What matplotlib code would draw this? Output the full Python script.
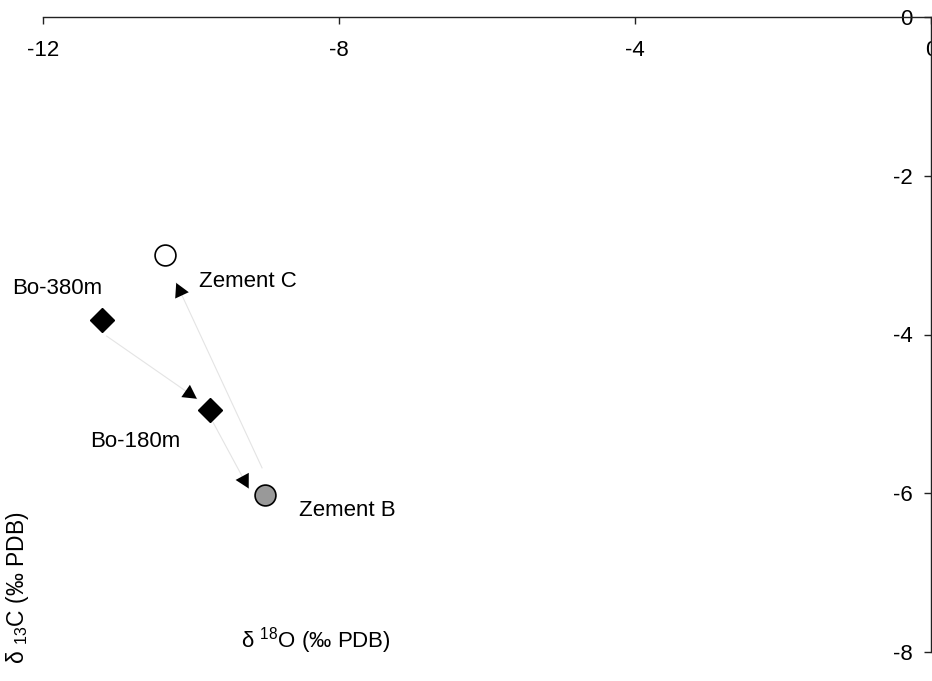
import matplotlib
matplotlib.use("Agg")
import matplotlib.pyplot as plt
from matplotlib.patches import FancyArrowPatch

# Isotope values (delta 18O, delta 13C, per mil PDB)
names = ["Zement C", "Bo-380m", "Bo-180m", "Zement B"]
d18o = [-10.35, -11.2, -9.75, -9.0]
d13c = [-3.0, -3.82, -4.95, -6.02]

# Evolution arrows: start and tip, in data units
arrow_x0 = [-11.14, -9.70, -9.04]
arrow_y0 = [-4.02, -5.11, -5.68]
arrow_x1 = [-9.92, -9.22, -10.20]
arrow_y1 = [-4.81, -5.94, -3.35]

x_ticks = [-12, -8, -4, 0]
y_ticks = [0, -2, -4, -6, -8]

plt.rcParams.update({
    "font.family": ["Liberation Sans", "DejaVu Sans"],
    "font.size": 16,
    "axes.unicode_minus": False,
    "mathtext.fontset": "custom",
    "mathtext.rm": "Liberation Sans",
    "mathtext.it": "Liberation Sans:italic",
})

fig = plt.figure(figsize=(9.32, 6.81), dpi=100)
W, H = 932, 681
ax = fig.add_axes([43 / W, 29 / H, 888 / W, 635 / H])

ax.set_xlim(-12, 0)
ax.set_ylim(-8, 0)
ax.set_xticks(x_ticks)
ax.set_yticks(y_ticks)

for side in ("left", "bottom"):
    ax.spines[side].set_visible(False)
for side in ("top", "right"):
    ax.spines[side].set_linewidth(1.0)
    ax.spines[side].set_color("#222222")

ax.xaxis.set_ticks_position("top")
ax.yaxis.set_ticks_position("right")
ax.tick_params(axis="x", direction="in", length=5, width=1, color="#222222",
               labeltop=True, labelbottom=False, pad=-32)
ax.tick_params(axis="y", direction="in", length=5, width=1, color="#222222",
               labelright=True, labelleft=False, pad=-13)
plt.setp(ax.get_yticklabels(), ha="right")

# faint connecting lines with solid heads
for x0, y0, x1, y1 in zip(arrow_x0, arrow_y0, arrow_x1, arrow_y1):
    ax.plot([x0, x1], [y0, y1], color="#e4e4e4", lw=0.8, zorder=1)
    arr = FancyArrowPatch((x0, y0), (x1, y1),
                          arrowstyle="-|>,head_length=0.55,head_width=0.3",
                          mutation_scale=18, color="black", lw=0,
                          shrinkA=0, shrinkB=0, zorder=2)
    ax.add_patch(arr)

styles = {
    "Zement C": dict(marker="o", ms=15, mfc="white", mec="black", mew=1.2),
    "Bo-380m": dict(marker="D", ms=12, mfc="black", mec="black", mew=1),
    "Bo-180m": dict(marker="D", ms=12, mfc="black", mec="black", mew=1),
    "Zement B": dict(marker="o", ms=15, mfc="#999999", mec="black", mew=1.2),
}
label_offsets = {
    "Zement C": (24.5, -19),
    "Bo-380m": (-65, 23),
    "Bo-180m": (-86, -23),
    "Zement B": (24.5, -11),
}
for n, x, y in zip(names, d18o, d13c):
    ax.plot([x], [y], linestyle="none", zorder=3, clip_on=False, **styles[n])
    ax.annotate(n, (x, y), xytext=label_offsets[n], textcoords="offset points",
                ha="left", va="center", fontsize=16, annotation_clip=False)

fig.text(316 / W, 1 - 641 / H, "δ $^{18}$O (‰ PDB)", ha="center", va="center",
         fontsize=16)
fig.text(18 / W, 1 - 588 / H, "δ $_{13}$C (‰ PDB)", ha="center", va="center",
         rotation=90, fontsize=16.5)

fig.savefig("out.png", dpi=100)
